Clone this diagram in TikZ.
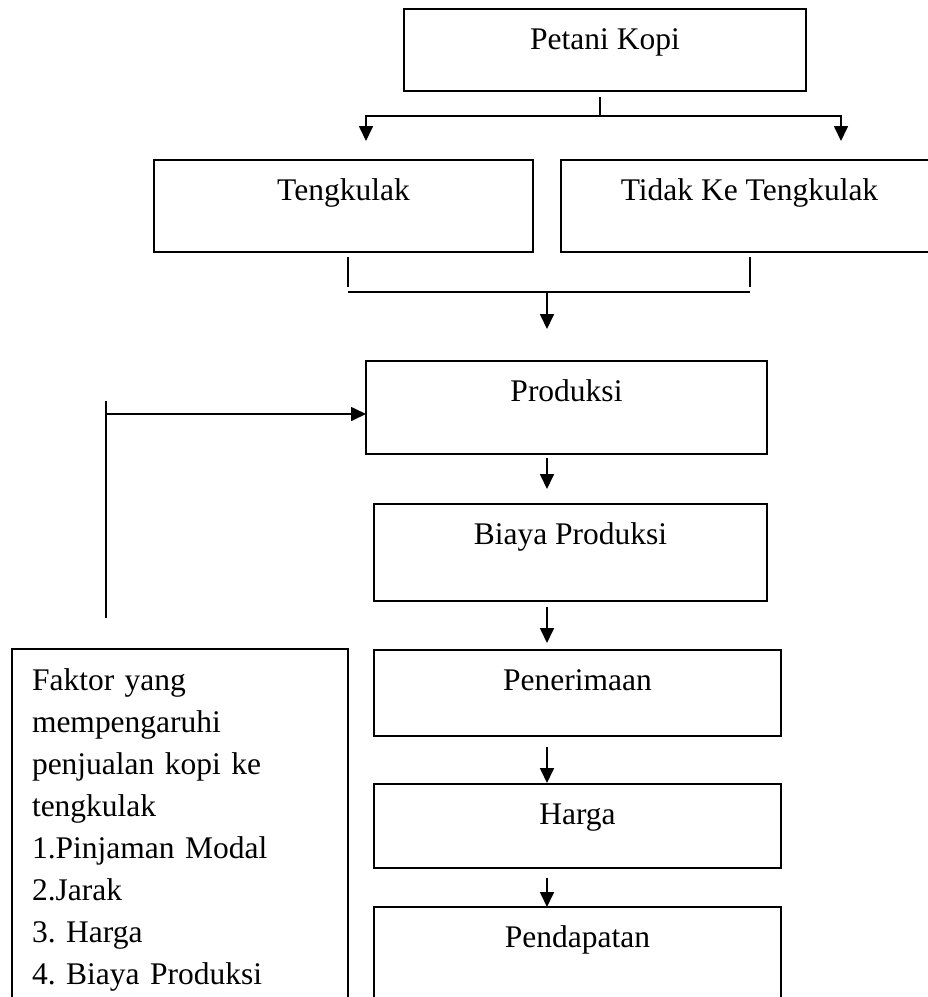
\documentclass[tikz,border=0pt]{standalone}
\usepackage{fontspec}
\setmainfont{Liberation Serif}
\usetikzlibrary{arrows.meta}
\frenchspacing
\begin{document}
\begin{tikzpicture}[x=1pt,y=-1pt,
    font=\fontsize{31.5}{42}\selectfont,
    box/.style={draw,line width=1.7pt,rectangle,outer sep=0pt,inner xsep=0pt,inner ysep=0pt,text height=40pt,anchor=north},
    link/.style={line width=1.7pt},
    arr/.style={line width=1.7pt,-{Triangle[width=14pt,length=15pt]}}]
          \useasboundingbox (0,0) rectangle (928,997);
          \clip (0,0) rectangle (928,997);

          \node[box,minimum width=402pt,text depth=42pt] (petani) at (605,9) {Petani Kopi};
          \node[box,minimum width=379pt,text depth=52pt] (tengk) at (343.5,160) {Tengkulak};
          \node[box,minimum width=377pt,text depth=52pt] (tidak) at (749.5,160) {Tidak Ke Tengkulak};
          \node[box,minimum width=401pt,text depth=53pt] (prod) at (566.5,361) {Produksi};
          \node[box,minimum width=393pt,text depth=57pt] (biaya) at (570.5,504) {Biaya Produksi};
          \node[box,minimum width=407pt,text depth=46pt] (pener) at (577.5,650) {Penerimaan};
          \node[box,minimum width=407pt,text depth=44pt] (harga) at (577.5,784) {Harga};
          \node[box,minimum width=407pt,text depth=120pt] (pend) at (577.5,907) {Pendapatan};
          \node[draw,line width=1.7pt,anchor=north west,outer sep=0pt,text width=296pt,align=left,inner xsep=20pt,inner ysep=11.6pt] (faktor) at (12,649)
            {\strut Faktor yang\\mempengaruhi\\penjualan kopi ke\\tengkulak\\1.Pinjaman Modal\\2.Jarak\\3. Harga\\4. Biaya Produksi};

          \coordinate (split) at (600,116);
          \coordinate (toL) at (366,116);
          \coordinate (toR) at (841,116);
          \coordinate (joinL) at (348,292);
          \coordinate (joinR) at (750,292);
          \coordinate (merge) at (547,292);
          \coordinate (spine) at (547,0);
          \coordinate (fbtop) at (106,401);
          \coordinate (fbcorner) at (106,414);
          \coordinate (fbbot) at (106,618);

          % petani ke dua cabang
          \draw[link,shorten <=6pt] (petani.south -| split) -- (split);
          \draw[line width=1.7pt,{Triangle[width=14pt,length=15pt]}-{Triangle[width=14pt,length=15pt]},shorten <=19pt,shorten >=19pt]
            (tengk.north -| toL) -- (toL) -- (toR) -- (tidak.north -| toR);

          % gabung ke produksi
          \draw[link,shorten <=5pt,shorten >=5pt] (tengk.south -| joinL) -- (joinL);
          \draw[link,shorten <=5pt,shorten >=5pt] (tidak.south -| joinR) -- (joinR);
          \draw[link] (joinL) -- (joinR);
          \draw[arr,shorten >=32pt] (merge) -- (prod.north -| merge);

          \draw[arr,shorten <=4pt,shorten >=15pt] (prod.south -| spine) -- (biaya.north -| spine);
          \draw[arr,shorten <=6pt,shorten >=7pt] (biaya.south -| spine) -- (pener.north -| spine);
          \draw[arr,shorten <=11pt,shorten >=1pt] (pener.south -| spine) -- (harga.north -| spine);
          \draw[arr,shorten <=10pt] (harga.south -| spine) -- (pend.north -| spine);

          % faktor ke produksi
          \draw[link] (fbbot) -- (fbtop);
          \draw[arr] (fbcorner) -- (prod.west |- fbcorner);
        \end{tikzpicture}
\end{document}
